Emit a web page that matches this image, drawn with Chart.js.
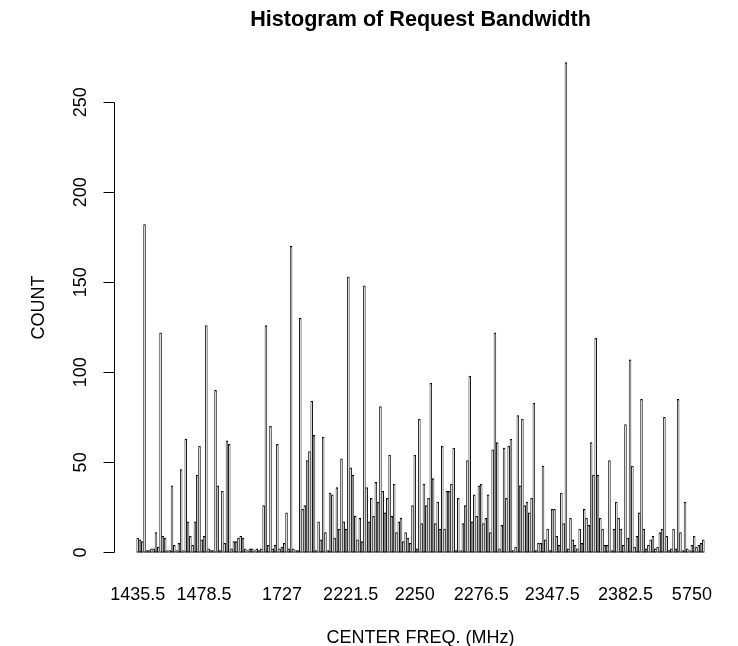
<!DOCTYPE html>
<html><head><meta charset="utf-8">
<script src="https://cdn.jsdelivr.net/npm/chart.js@4.4.1/dist/chart.umd.min.js"></script>
<style>html,body{margin:0;padding:0;background:#fff;}canvas{display:block;}</style>
</head><body>
<canvas id="c" width="738" height="646"></canvas>
<script>
// Counts per center frequency (one bar per distinct frequency), read left to right
const countsA = [8, 7, 6, 182, 1, 1, 2, 2, 11, 3, 122, 9, 8, 1, 1, 37, 4, 1, 5, 46, 1, 63, 17, 9, 4, 17, 43, 59, 7, 9, 126, 2, 1, 1, 90, 37, 1, 34, 5, 62, 60];
const countsB = [2, 6, 6, 8, 9, 8, 2, 1, 2, 2, 1, 2, 1, 2, 26, 126, 4, 70, 2, 4, 60, 2, 3, 5, 22, 2, 170, 2, 1, 1, 130, 24, 26, 51, 56, 84, 65, 1, 17, 7, 64, 11, 1, 33, 32, 8, 36, 13, 52, 17, 13, 153, 47, 43, 20, 7, 19];
const countsC = [6, 148, 36, 17, 30, 20, 39, 28, 81, 34, 22, 30, 54, 20, 38, 11, 17, 19, 6, 11, 8, 5, 26, 54, 2, 74, 16, 38, 26, 30, 94, 41, 16, 28, 13, 59, 13, 34, 34, 38, 58, 1, 30, 1, 16, 26, 51, 98];
const countsD = [17, 32, 20, 37, 38, 16, 19, 32, 11, 57, 122, 61, 2, 15, 58, 30, 59, 63, 1, 3, 76, 37, 74, 26, 28, 22, 30, 83, 1, 5, 5, 48, 7, 13, 1, 24, 24, 9, 4, 33, 16, 272, 2, 19, 7, 4, 2, 13];
const countsE = [5, 24, 19, 15, 61, 43, 119, 43, 19, 13, 4, 4, 51, 1, 13, 28, 19, 13, 4, 71, 8, 107, 48, 3, 9, 22, 85, 13, 2, 4, 7, 9, 2, 3, 11, 13, 75, 9, 1, 2, 13, 2, 85, 11, 1, 28, 2, 1, 4, 9, 3, 4, 5, 7];
const counts = [].concat(countsA, countsB, countsC, countsD, countsE);

// Frequency labels that are legible under the bars, and the bar each belongs to
const tickLabels = ["1435.5", "1478.5", "1727", "2221.5", "2250", "2276.5", "2347.5", "2382.5", "5750"];
const tickBars = [0, 29, 63, 93, 121, 150, 181, 213, 242];
const yTicks = [0, 50, 100, 150, 200, 250];

const titleText = "Histogram of Request Bandwidth";
const xTitle = "CENTER FREQ. (MHz)";
const yTitle = "COUNT";

const N = counts.length;
const maxCount = Math.max(...counts);
const span = N - 1 + 1 / 1.2;
const padX = 0.04 * span;

const FONT = '"Liberation Sans", Arial, Helvetica, sans-serif';

const rAxes = {
  id: 'rAxes',
  afterDraw(chart) {
    const {ctx, chartArea: a, scales: {x, y}} = chart;
    ctx.save();
    ctx.fillStyle = '#000';
    ctx.strokeStyle = '#000';
    ctx.lineWidth = 1;
    const ax = Math.round(a.left) + 0.5;
    ctx.beginPath();
    ctx.moveTo(ax, Math.round(y.getPixelForValue(yTicks[0])) + 0.5);
    ctx.lineTo(ax, Math.round(y.getPixelForValue(yTicks[yTicks.length - 1])) + 0.5);
    yTicks.forEach(t => {
      const py = Math.round(y.getPixelForValue(t)) + 0.5;
      ctx.moveTo(ax, py);
      ctx.lineTo(ax - 11, py);
    });
    ctx.stroke();

    ctx.font = '18px ' + FONT;
    ctx.textAlign = 'center';
    ctx.textBaseline = 'alphabetic';
    yTicks.forEach(t => {
      ctx.save();
      ctx.translate(a.left - 28, y.getPixelForValue(t));
      ctx.rotate(-Math.PI / 2);
      ctx.fillText(String(t), 0, 0);
      ctx.restore();
    });
    tickBars.forEach((b, k) => {
      ctx.fillText(tickLabels[k], x.getPixelForValue(b), a.bottom + 28);
    });
    ctx.fillText(xTitle, (a.left + a.right) / 2, a.bottom + 71);
    ctx.save();
    ctx.translate(a.left - 70, (a.top + a.bottom) / 2);
    ctx.rotate(-Math.PI / 2);
    ctx.fillText(yTitle, 0, 0);
    ctx.restore();

    ctx.font = 'bold 21.6px ' + FONT;
    ctx.fillText(titleText, (a.left + a.right) / 2, 26);
    ctx.restore();
  }
};

new Chart(document.getElementById('c'), {
  type: 'bar',
  data: {
    datasets: [{
      data: counts.map((v, i) => ({x: i, y: v})),
      backgroundColor: '#ffffff',
      borderColor: '#000000',
      borderWidth: 1,
      borderSkipped: false,
      inflateAmount: 0.3,
      categoryPercentage: 1 / 1.2,
      barPercentage: 1
    }]
  },
  options: {
    responsive: false,
    animation: false,
    devicePixelRatio: 1,
    layout: {padding: {left: 114, right: 11, top: 43, bottom: 74}},
    plugins: {legend: {display: false}, tooltip: {enabled: false}, title: {display: false}},
    scales: {
      x: {
        type: 'linear',
        display: false,
        offset: false,
        grid: {offset: false},
        min: -(1 / 1.2) / 2 - padX,
        max: N - 1 + (1 / 1.2) / 2 + padX
      },
      y: {
        type: 'linear',
        display: false,
        min: -0.04 * maxCount,
        max: 1.04 * maxCount
      }
    }
  },
  plugins: [rAxes]
});
</script>
</body></html>
